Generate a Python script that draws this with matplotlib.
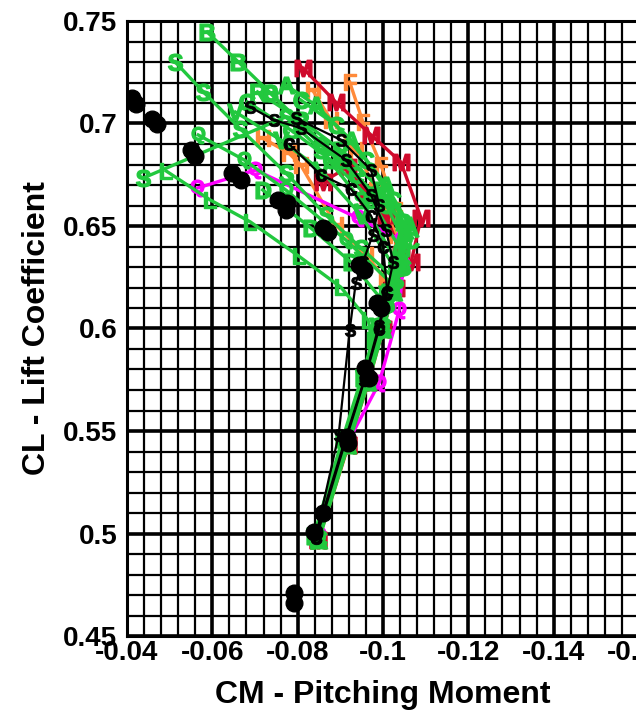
import numpy as np
import matplotlib
matplotlib.use("Agg")
import matplotlib.pyplot as plt
from matplotlib import font_manager as fm
from matplotlib.ticker import MultipleLocator, FuncFormatter

plt.rcParams['font.family'] = ['Liberation Sans', 'DejaVu Sans']
plt.rcParams['font.weight'] = 'bold'
plt.rcParams['mathtext.fontset'] = 'custom'
plt.rcParams['mathtext.rm'] = 'Liberation Sans:bold'
plt.rcParams['mathtext.default'] = 'rm'

GREEN = '#22c83e'
BLACK = '#000000'
RED = '#cf0a2c'
ORANGE = '#ff8a3a'
MAGENTA = '#ff00ff'

# Pitching moment (CM) and lift coefficient (CL) for each configuration run
g_b_cm = [-0.0848, -0.0915, -0.0962, -0.0995, -0.1015, -0.1035, -0.1047, -0.0984, -0.0901, -0.0807, -0.0736, -0.0661, -0.0588]
g_b_cl = [0.497, 0.543, 0.574, 0.600, 0.618, 0.633, 0.652, 0.6651, 0.6822, 0.7007, 0.7149, 0.7300, 0.7446]

g_s_cm = [-0.0840, -0.0910, -0.0955, -0.0988, -0.1010, -0.1031, -0.0948, -0.0866, -0.0772, -0.0666, -0.0579, -0.0513]
g_s_cl = [0.499, 0.546, 0.576, 0.601, 0.612, 0.6237, 0.6393, 0.6554, 0.6759, 0.6973, 0.7154, 0.7300]

g_s2_cm = [-0.0846, -0.0913, -0.0960, -0.0993, -0.1012, -0.1033, -0.0948, -0.0854, -0.0772, -0.0438]
g_s2_cl = [0.498, 0.544, 0.575, 0.600, 0.617, 0.6324, 0.6627, 0.6871, 0.7032, 0.6734]

g_l_cm = [-0.0838, -0.0905, -0.0950, -0.0976, -0.0965, -0.0901, -0.0802, -0.0689, -0.0595, -0.0492]
g_l_cl = [0.499, 0.546, 0.576, 0.5944, 0.6041, 0.6202, 0.6354, 0.6520, 0.6627, 0.6768]

g_q_cm = [-0.0845, -0.0914, -0.0958, -0.0993, -0.1024, -0.0913, -0.0772, -0.0675, -0.0567]
g_q_cl = [0.498, 0.544, 0.575, 0.600, 0.6212, 0.6432, 0.6676, 0.6822, 0.6944]

g_r_cm = [-0.0847, -0.0916, -0.0963, -0.0998, -0.1020, -0.1040, -0.1054, -0.0995, -0.0901, -0.0807, -0.0706]
g_r_cl = [0.497, 0.543, 0.574, 0.600, 0.618, 0.632, 0.648, 0.6676, 0.6871, 0.7017, 0.7154]

g_a_cm = [-0.0850, -0.0918, -0.0966, -0.1001, -0.1025, -0.1045, -0.1061, -0.1007, -0.0925, -0.0842, -0.0772]
g_a_cl = [0.497, 0.543, 0.574, 0.600, 0.618, 0.633, 0.6505, 0.6700, 0.6920, 0.7090, 0.7188]

g_c_cm = [-0.0849, -0.0917, -0.0965, -0.1000, -0.1023, -0.1048, -0.1066, -0.1024, -0.0960, -0.0889, -0.0807]
g_c_cl = [0.498, 0.544, 0.575, 0.601, 0.619, 0.630, 0.6432, 0.6627, 0.6822, 0.6993, 0.7115]

g_g_cm = [-0.0843, -0.0911, -0.0957, -0.0990, -0.1010, -0.1030, -0.1042, -0.0972, -0.0878, -0.0784, -0.0682]
g_g_cl = [0.498, 0.545, 0.575, 0.601, 0.618, 0.630, 0.6383, 0.6627, 0.6822, 0.6968, 0.7105]

g_v_cm = [-0.0841, -0.0909, -0.0954, -0.0987, -0.1008, -0.1031, -0.0948, -0.0854, -0.0760, -0.0654]
g_v_cl = [0.499, 0.545, 0.576, 0.601, 0.617, 0.6285, 0.6554, 0.6773, 0.6920, 0.7056]

g_e_cm = [-0.0846, -0.0915, -0.0961, -0.0996, -0.1018, -0.1036, -0.1049, -0.1007, -0.0936, -0.0854, -0.0736]
g_e_cl = [0.498, 0.544, 0.575, 0.600, 0.618, 0.632, 0.6432, 0.6602, 0.6749, 0.6895, 0.7149]

g_d_cm = [-0.0839, -0.0907, -0.0952, -0.0984, -0.1007, -0.0925, -0.0831, -0.0718]
g_d_cl = [0.499, 0.546, 0.576, 0.598, 0.6115, 0.6324, 0.6490, 0.6676]

k_s_cm = [-0.0842, -0.0910, -0.0956, -0.0990, -0.1008, -0.1024, -0.1007, -0.0972, -0.0913, -0.0807, -0.0744, -0.0689]
k_s_cl = [0.4985, 0.545, 0.575, 0.601, 0.617, 0.6324, 0.6480, 0.6651, 0.6822, 0.6978, 0.7017, 0.7080]

k_t_cm = [-0.0845, -0.0896, -0.0922, -0.0936, -0.0953, -0.0976, -0.0991, -0.0972, -0.0901, -0.0795]
k_t_cl = [0.5007, 0.548, 0.5993, 0.6222, 0.6324, 0.6456, 0.6602, 0.6773, 0.6920, 0.7027]

k_c_cm = [-0.0844, -0.0912, -0.0957, -0.0991, -0.1010, -0.1000, -0.0972, -0.0925, -0.0854, -0.0780]
k_c_cl = [0.498, 0.545, 0.575, 0.600, 0.618, 0.640, 0.655, 0.668, 0.675, 0.690]

r_m_cm = [-0.0848, -0.0918, -0.0965, -0.1000, -0.1030, -0.1066, -0.1089, -0.1042, -0.0972, -0.0889, -0.0812]
r_m_cl = [0.497, 0.543, 0.574, 0.600, 0.620, 0.6324, 0.6539, 0.6812, 0.6944, 0.7105, 0.7271]

r_b_cm = [-0.0847, -0.0917, -0.0963, -0.0998, -0.1022, -0.1042, -0.1007, -0.0965, -0.0918, -0.0859]
r_b_cl = [0.497, 0.543, 0.574, 0.600, 0.619, 0.6359, 0.6554, 0.6651, 0.6788, 0.6715]

o_f_cm = [-0.0849, -0.0919, -0.0966, -0.1001, -0.1025, -0.1042, -0.1031, -0.0995, -0.0953, -0.0922]
o_f_cl = [0.497, 0.543, 0.574, 0.600, 0.619, 0.6383, 0.6578, 0.6798, 0.7007, 0.7202]

o_h_cm = [-0.0848, -0.0917, -0.0964, -0.0999, -0.1021, -0.1031, -0.0984, -0.0936, -0.0878, -0.0835]
o_h_cl = [0.497, 0.543, 0.574, 0.600, 0.619, 0.6456, 0.6676, 0.6871, 0.7017, 0.7163]

o_h2_cm = [-0.0846, -0.0915, -0.0961, -0.0995, -0.1007, -0.0960, -0.0889, -0.0807, -0.0779, -0.0718]
o_h2_cl = [0.498, 0.544, 0.575, 0.600, 0.6237, 0.6359, 0.6505, 0.6798, 0.6856, 0.6929]

m_q_cm = [-0.0849, -0.0918, -0.0991, -0.1038, -0.1047, -0.1042, -0.0941, -0.0701, -0.0565]
m_q_cl = [0.4993, 0.5446, 0.5734, 0.6090, 0.6310, 0.6432, 0.6539, 0.6773, 0.6685]

# Measured points (paired runs)
test_cm = [-0.0412, -0.0421, -0.0459, -0.0471, -0.0551, -0.0560, -0.0647, -0.0668,
           -0.0753, -0.0772, -0.0775, -0.0859, -0.0871, -0.0944, -0.0955, -0.0986,
           -0.0995, -0.0958, -0.0967, -0.0915, -0.0918, -0.0859, -0.0838, -0.0791, -0.0791]
test_cl = [0.7124, 0.7095, 0.7022, 0.6998, 0.6871, 0.6841, 0.6759, 0.6724,
           0.6627, 0.6578, 0.6610, 0.6490, 0.6471, 0.6310, 0.6285, 0.6124,
           0.6100, 0.5807, 0.5759, 0.5471, 0.5441, 0.5100, 0.5005, 0.4710, 0.4661]

# drawing order: warm colours first, then green, then black on top
runs = [
    (o_f_cm, o_f_cl, ORANGE, 'F'),
    (o_h_cm, o_h_cl, ORANGE, 'H'),
    (o_h2_cm, o_h2_cl, ORANGE, 'H'),
    (r_m_cm, r_m_cl, RED, 'M'),
    (r_b_cm, r_b_cl, RED, 'M'),
    (m_q_cm, m_q_cl, MAGENTA, 'Q'),
    (g_b_cm, g_b_cl, GREEN, 'B'),
    (g_s_cm, g_s_cl, GREEN, 'S'),
    (g_s2_cm, g_s2_cl, GREEN, 'S'),
    (g_l_cm, g_l_cl, GREEN, 'L'),
    (g_q_cm, g_q_cl, GREEN, 'Q'),
    (g_r_cm, g_r_cl, GREEN, 'R'),
    (g_a_cm, g_a_cl, GREEN, 'A'),
    (g_c_cm, g_c_cl, GREEN, 'C'),
    (g_g_cm, g_g_cl, GREEN, 'G'),
    (g_v_cm, g_v_cl, GREEN, 'V'),
    (g_e_cm, g_e_cl, GREEN, 'e'),
    (g_d_cm, g_d_cl, GREEN, 'D'),
    (k_s_cm, k_s_cl, BLACK, 'S'),
    (k_t_cm, k_t_cl, BLACK, 'S'),
    (k_c_cm, k_c_cl, BLACK, 'c'),
]

fig = plt.figure(figsize=(6.36, 7.11), dpi=100)
ax = fig.add_axes([127 / 636, 75 / 711, 512 / 636, 615 / 711])

for cm, cl, col, letter in runs:
    if col == BLACK:
        lw, ms, mew = 1.6, 9, 0.6
    else:
        lw, ms, mew = 2.4, 12, 1.0
    ax.plot(cm, cl, color=col, lw=lw, marker=f'${letter}$', markersize=ms,
            markeredgewidth=mew, markeredgecolor=col, markerfacecolor=col, zorder=3)

ax.plot(test_cm, test_cl, linestyle='none', marker='o', markersize=12,
        color='black', zorder=5)

ax.set_xlim(-0.04, -0.16)
ax.set_ylim(0.45, 0.75)
ax.xaxis.set_major_locator(MultipleLocator(0.02))
ax.xaxis.set_minor_locator(MultipleLocator(0.004))
ax.yaxis.set_major_locator(MultipleLocator(0.05))
ax.yaxis.set_minor_locator(MultipleLocator(0.01))
fmt = FuncFormatter(lambda v, p: f'{round(v, 4):g}')
ax.xaxis.set_major_formatter(fmt)
ax.yaxis.set_major_formatter(fmt)

ax.grid(which='major', color='black', lw=2.6, zorder=1)
ax.grid(which='minor', color='black', lw=1.6, zorder=1)
ax.set_axisbelow(True)
ax.tick_params(which='both', length=0)
ax.tick_params(axis='y', pad=7)
ax.tick_params(axis='x', pad=3)
for s in ax.spines.values():
    s.set_linewidth(2.2)

# narrow bold face for the CM tick labels when one is installed
all_names = {f.name for f in fm.fontManager.ttflist}
if 'Liberation Sans Narrow' in all_names:
    xfamily, xsize = 'Liberation Sans Narrow', 23
else:
    xfamily, xsize = 'Liberation Sans', 20
for lab in ax.get_xticklabels():
    lab.set_fontweight('bold')
    lab.set_fontsize(xsize)
    lab.set_fontfamily([xfamily, 'DejaVu Sans'])
for lab in ax.get_yticklabels():
    lab.set_fontsize(20)
    lab.set_fontweight('bold')

ax.set_xlabel('CM - Pitching Moment', fontsize=23, fontweight='bold', labelpad=10)
ax.set_ylabel('CL - Lift Coefficient', fontsize=23, fontweight='bold', labelpad=8)

fig.savefig('out.png', dpi=100)
